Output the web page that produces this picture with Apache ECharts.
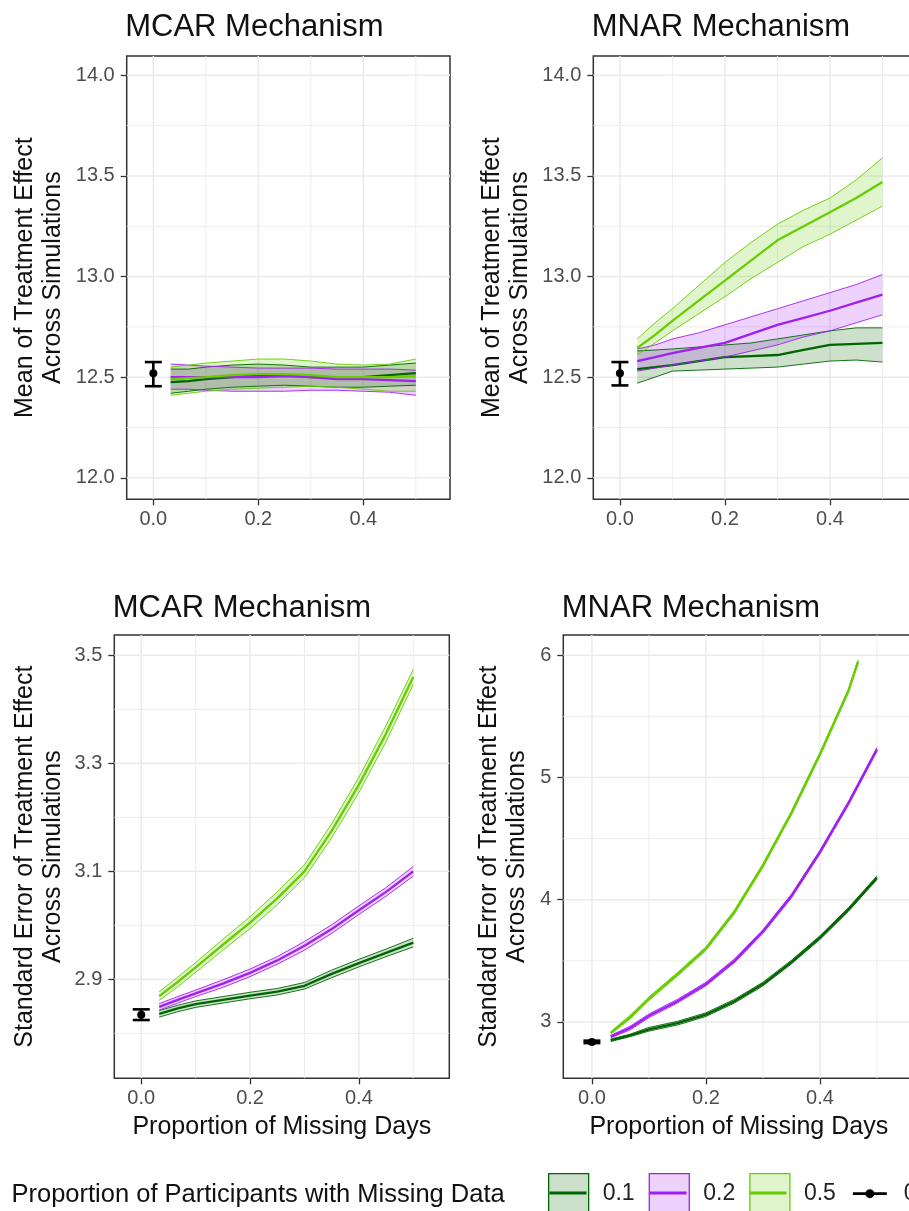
<!DOCTYPE html>
<html><head><meta charset="utf-8">
<script src="https://cdn.jsdelivr.net/npm/echarts@6/dist/echarts.min.js"></script>
<style>html,body{margin:0;padding:0;background:#fff}#c{width:909px;height:1211px}</style>
</head><body><div id="c"></div>
<script>
// ---------- DATA ----------
const groups = ['0.1', '0.2', '0.5'];
const refName = '0';
const xs = [0.033, 0.067, 0.1, 0.15, 0.2, 0.25, 0.3, 0.35, 0.4, 0.45, 0.5];
const xsShort = [0.033, 0.067, 0.1, 0.15, 0.2, 0.25, 0.3, 0.35, 0.4, 0.45, 0.467];

// Panel A: MCAR, mean of treatment effect
const mcarMean_01 = [12.475, 12.48, 12.49, 12.50, 12.51, 12.51, 12.50, 12.50, 12.50, 12.51, 12.52];
const mcarMean_01_hi = [12.54, 12.54, 12.55, 12.56, 12.565, 12.56, 12.55, 12.55, 12.55, 12.56, 12.57];
const mcarMean_01_lo = [12.42, 12.43, 12.44, 12.45, 12.455, 12.46, 12.455, 12.45, 12.45, 12.455, 12.46];
const mcarMean_02 = [12.50, 12.50, 12.50, 12.50, 12.50, 12.505, 12.50, 12.49, 12.49, 12.485, 12.48];
const mcarMean_02_hi = [12.565, 12.56, 12.555, 12.55, 12.545, 12.545, 12.545, 12.54, 12.54, 12.54, 12.535];
const mcarMean_02_lo = [12.44, 12.44, 12.435, 12.43, 12.43, 12.43, 12.435, 12.435, 12.43, 12.425, 12.41];
const mcarMean_05 = [12.49, 12.495, 12.50, 12.51, 12.515, 12.515, 12.51, 12.50, 12.50, 12.50, 12.505];
const mcarMean_05_hi = [12.55, 12.56, 12.57, 12.58, 12.59, 12.59, 12.58, 12.565, 12.56, 12.565, 12.59];
const mcarMean_05_lo = [12.41, 12.42, 12.43, 12.44, 12.445, 12.45, 12.455, 12.45, 12.44, 12.43, 12.43];

// Panel B: MNAR, mean of treatment effect
const mnarMean_01 = [12.54, 12.55, 12.56, 12.58, 12.60, 12.605, 12.61, 12.635, 12.66, 12.665, 12.67];
const mnarMean_01_hi = [12.63, 12.635, 12.64, 12.65, 12.66, 12.67, 12.69, 12.71, 12.73, 12.745, 12.745];
const mnarMean_01_lo = [12.47, 12.50, 12.53, 12.535, 12.54, 12.545, 12.55, 12.565, 12.58, 12.585, 12.575];
const mnarMean_02 = [12.58, 12.60, 12.62, 12.645, 12.67, 12.715, 12.76, 12.795, 12.83, 12.87, 12.91];
const mnarMean_02_hi = [12.64, 12.66, 12.69, 12.72, 12.76, 12.80, 12.84, 12.88, 12.92, 12.96, 13.01];
const mnarMean_02_lo = [12.53, 12.545, 12.56, 12.58, 12.60, 12.63, 12.66, 12.70, 12.73, 12.77, 12.81];
const mnarMean_05 = [12.645, 12.71, 12.78, 12.88, 12.98, 13.08, 13.18, 13.25, 13.32, 13.39, 13.47];
const mnarMean_05_hi = [12.69, 12.77, 12.84, 12.955, 13.07, 13.17, 13.26, 13.33, 13.39, 13.48, 13.59];
const mnarMean_05_lo = [12.61, 12.67, 12.73, 12.815, 12.90, 12.99, 13.07, 13.15, 13.21, 13.28, 13.35];

// Panel C: MCAR, standard error
const mcarSE_01 = [2.836, 2.846, 2.854, 2.862, 2.870, 2.877, 2.888, 2.910, 2.930, 2.949, 2.968];
const mcarSE_01_hi = [2.842, 2.852, 2.860, 2.868, 2.876, 2.883, 2.894, 2.917, 2.937, 2.956, 2.976];
const mcarSE_01_lo = [2.830, 2.840, 2.848, 2.856, 2.864, 2.871, 2.882, 2.903, 2.923, 2.942, 2.960];
const mcarSE_02 = [2.849, 2.862, 2.874, 2.892, 2.912, 2.935, 2.962, 2.993, 3.028, 3.062, 3.10];
const mcarSE_02_hi = [2.855, 2.868, 2.880, 2.899, 2.919, 2.942, 2.970, 3.001, 3.036, 3.070, 3.109];
const mcarSE_02_lo = [2.843, 2.856, 2.868, 2.885, 2.905, 2.928, 2.954, 2.985, 3.020, 3.054, 3.091];
const mcarSE_05 = [2.869, 2.895, 2.922, 2.964, 3.005, 3.05, 3.10, 3.175, 3.26, 3.355, 3.46];
const mcarSE_05_hi = [2.877, 2.904, 2.931, 2.974, 3.016, 3.062, 3.112, 3.188, 3.274, 3.370, 3.474];
const mcarSE_05_lo = [2.861, 2.886, 2.913, 2.954, 2.994, 3.038, 3.088, 3.162, 3.246, 3.340, 3.446];

// Panel D: MNAR, standard error
const mnarSE_01 = [2.85, 2.89, 2.94, 2.99, 3.06, 3.17, 3.31, 3.49, 3.69, 3.92, 4.18];
const mnarSE_01_hi = [2.86, 2.90, 2.955, 3.005, 3.075, 3.185, 3.325, 3.505, 3.705, 3.935, 4.195];
const mnarSE_01_lo = [2.84, 2.88, 2.925, 2.975, 3.045, 3.155, 3.295, 3.475, 3.675, 3.905, 4.165];
const mnarSE_02 = [2.88, 2.95, 3.05, 3.17, 3.31, 3.50, 3.74, 4.03, 4.39, 4.79, 5.23];
const mnarSE_02_hi = [2.89, 2.965, 3.065, 3.185, 3.325, 3.515, 3.755, 4.045, 4.405, 4.805, 5.245];
const mnarSE_02_lo = [2.87, 2.935, 3.035, 3.155, 3.295, 3.485, 3.725, 4.015, 4.375, 4.775, 5.215];
const mnarSE_05 = [2.91, 3.04, 3.19, 3.39, 3.60, 3.90, 4.28, 4.71, 5.19, 5.71, 5.95];
const mnarSE_05_hi = [2.92, 3.055, 3.205, 3.405, 3.615, 3.915, 4.295, 4.725, 5.205, 5.725, 5.965];
const mnarSE_05_lo = [2.90, 3.025, 3.175, 3.375, 3.585, 3.885, 4.265, 4.695, 5.175, 5.695, 5.935];

// Reference (no missing data) point with error bar, one per panel
const refX = [0, 0, 0, 0];
const refMean = [12.52, 12.52, 2.8345, 2.837];
const refLo = [12.455, 12.459, 2.8246, 2.827];
const refHi = [12.575, 12.575, 2.8444, 2.847];

// Tick labels / grid values
const xMajor = [0, 0.2, 0.4];
const xMinor = [0.1, 0.3, 0.5];
const yMajorMean = [12.0, 12.5, 13.0, 13.5, 14.0];
const yMinorMean = [12.25, 12.75, 13.25, 13.75];
const yMajorSE1 = [2.9, 3.1, 3.3, 3.5];
const yMinorSE1 = [2.8, 3.0, 3.2, 3.4];
const yMajorSE2 = [3, 4, 5, 6];
const yMinorSE2 = [3.5, 4.5, 5.5];

const panelTitles = ['MCAR Mechanism', 'MNAR Mechanism', 'MCAR Mechanism', 'MNAR Mechanism'];
const yTitles = ['Mean of Treatment Effect\nAcross Simulations', 'Mean of Treatment Effect\nAcross Simulations',
  'Standard Error of Treatment Effect\nAcross Simulations', 'Standard Error of Treatment Effect\nAcross Simulations'];
const xTitle = 'Proportion of Missing Days';
const legendTitle = 'Proportion of Participants with Missing Data';

// ---------- STYLE / LAYOUT ----------
const FONT = 'Liberation Sans, Arial, Helvetica, sans-serif';
const colors = ['#006400', '#A020F0', '#66CD00'];
const fills = ['rgba(0,100,0,0.2)', 'rgba(160,32,240,0.2)', 'rgba(102,205,0,0.2)'];

const grids = [
  { left: 126.7, top: 56, width: 323.3, height: 443.3 },
  { left: 593.3, top: 56, width: 323.3, height: 443.3 },
  { left: 114.3, top: 635, width: 335, height: 443.3 },
  { left: 563.3, top: 635, width: 351, height: 443.3 }
];
const xRanges = [[-0.0507, 0.5651], [-0.0507, 0.5651], [-0.0495, 0.5662], [-0.0502, 0.5655]];
const yRanges = [[11.893, 14.096], [11.893, 14.096], [2.7167, 3.5376], [2.539, 6.166]];
const yMajors = [yMajorMean, yMajorMean, yMajorSE1, yMajorSE2];
const yMinors = [yMinorMean, yMinorMean, yMinorSE1, yMinorSE2];
const yFmt = [v => v.toFixed(1), v => v.toFixed(1), v => v.toFixed(1), v => String(Math.round(v))];
const yNameGaps = [59.5, 59.5, 47.3, 32];

const panels = [
  { x: [xs, xs, xs], m: [mcarMean_01, mcarMean_02, mcarMean_05], lo: [mcarMean_01_lo, mcarMean_02_lo, mcarMean_05_lo], hi: [mcarMean_01_hi, mcarMean_02_hi, mcarMean_05_hi] },
  { x: [xs, xs, xs], m: [mnarMean_01, mnarMean_02, mnarMean_05], lo: [mnarMean_01_lo, mnarMean_02_lo, mnarMean_05_lo], hi: [mnarMean_01_hi, mnarMean_02_hi, mnarMean_05_hi] },
  { x: [xs, xs, xs], m: [mcarSE_01, mcarSE_02, mcarSE_05], lo: [mcarSE_01_lo, mcarSE_02_lo, mcarSE_05_lo], hi: [mcarSE_01_hi, mcarSE_02_hi, mcarSE_05_hi] },
  { x: [xs, xs, xsShort], m: [mnarSE_01, mnarSE_02, mnarSE_05], lo: [mnarSE_01_lo, mnarSE_02_lo, mnarSE_05_lo], hi: [mnarSE_01_hi, mnarSE_02_hi, mnarSE_05_hi] }
];

// ---------- BUILD ----------
const series = [];
const xAxes = [], yAxes = [];

grids.forEach((g, gi) => {
  xAxes.push({
    type: 'value', gridIndex: gi, min: xRanges[gi][0], max: xRanges[gi][1],
    axisLine: { show: false, onZero: false }, splitLine: { show: false },
    axisTick: { show: true, customValues: xMajor, length: 6, lineStyle: { color: '#333', width: 1.3 } },
    axisLabel: { customValues: xMajor, formatter: v => v.toFixed(1), color: '#4D4D4D', fontSize: 20, fontFamily: FONT, margin: 10 },
    name: gi >= 2 ? xTitle : '', nameLocation: 'middle', nameGap: 36,
    nameTextStyle: { fontSize: 25, color: '#111', fontFamily: FONT }
  });
  yAxes.push({
    type: 'value', gridIndex: gi, min: yRanges[gi][0], max: yRanges[gi][1],
    axisLine: { show: false, onZero: false }, splitLine: { show: false },
    axisTick: { show: true, customValues: yMajors[gi], length: 6, lineStyle: { color: '#333', width: 1.3 } },
    axisLabel: { customValues: yMajors[gi], formatter: yFmt[gi], color: '#4D4D4D', fontSize: 20, fontFamily: FONT, margin: 12 },
    name: yTitles[gi], nameLocation: 'middle', nameRotate: 90, nameGap: yNameGaps[gi],
    nameTextStyle: { fontSize: 25, lineHeight: 28, color: '#111', fontFamily: FONT, align: 'center' }
  });

  // gridlines (major + minor) drawn through the axis scales
  const gl = [];
  xMajor.forEach(v => gl.push([0, v, 1]));
  xMinor.forEach(v => gl.push([0, v, 0]));
  yMajors[gi].forEach(v => gl.push([1, v, 1]));
  yMinors[gi].forEach(v => gl.push([1, v, 0]));
  series.push({
    type: 'custom', xAxisIndex: gi, yAxisIndex: gi, silent: true, z: 0, data: gl,
    encode: { x: 1 },
    renderItem: (params, api) => {
      const cs = params.coordSys;
      const isX = api.value(0) === 0, v = api.value(1), major = api.value(2) === 1;
      const st = { stroke: '#EBEBEB', lineWidth: major ? 1.5 : 0.9 };
      if (isX) {
        const px = api.coord([v, yRanges[gi][0]])[0];
        return { type: 'line', shape: { x1: px, y1: cs.y, x2: px, y2: cs.y + cs.height }, style: st };
      }
      const py = api.coord([xRanges[gi][0], v])[1];
      return { type: 'line', shape: { x1: cs.x, y1: py, x2: cs.x + cs.width, y2: py }, style: st };
    }
  });

  const P = panels[gi];
  // ribbons
  for (let k = 0; k < 3; k++) {
    const xv = P.x[k], lo = P.lo[k], hi = P.hi[k];
    series.push({
      type: 'custom', name: groups[k], xAxisIndex: gi, yAxisIndex: gi, silent: true, z: 2,
      data: xv.map((x, i) => [x, lo[i], hi[i]]),
      encode: { x: 0, y: [1, 2] },
      renderItem: (params, api) => {
        if (params.dataIndex !== 0) return null;
        const pts = [];
        for (let i = 0; i < xv.length; i++) pts.push(api.coord([xv[i], hi[i]]));
        for (let i = xv.length - 1; i >= 0; i--) pts.push(api.coord([xv[i], lo[i]]));
        return { type: 'polygon', shape: { points: pts }, style: { fill: fills[k], stroke: null } };
      }
    });
  }
  // bound lines and mean lines
  for (let k = 0; k < 3; k++) {
    const xv = P.x[k];
    [[P.lo[k], 0.9], [P.hi[k], 0.9], [P.m[k], 2.3]].forEach(([arr, w]) => {
      series.push({
        type: 'line', name: groups[k], xAxisIndex: gi, yAxisIndex: gi, z: 3,
        showSymbol: false, symbol: 'none', silent: true,
        lineStyle: { color: colors[k], width: w }, itemStyle: { color: colors[k] },
        data: xv.map((x, i) => [x, arr[i]])
      });
    });
  }
  // reference point + error bar
  series.push({
    type: 'custom', name: refName, xAxisIndex: gi, yAxisIndex: gi, z: 4, silent: true,
    data: [[refX[gi], refMean[gi], refLo[gi], refHi[gi]]],
    encode: { x: 0, y: [1, 2, 3] },
    renderItem: (params, api) => {
      const x = api.value(0);
      const p = api.coord([x, api.value(1)]);
      const pl = api.coord([x, api.value(2)]);
      const ph = api.coord([x, api.value(3)]);
      const st = { stroke: '#000', lineWidth: 2.6 };
      return {
        type: 'group', children: [
          { type: 'line', shape: { x1: p[0], y1: ph[1], x2: p[0], y2: pl[1] }, style: st },
          { type: 'line', shape: { x1: p[0] - 8.5, y1: ph[1], x2: p[0] + 8.5, y2: ph[1] }, style: st },
          { type: 'line', shape: { x1: p[0] - 8.5, y1: pl[1], x2: p[0] + 8.5, y2: pl[1] }, style: st },
          { type: 'circle', shape: { cx: p[0], cy: p[1], r: 4 }, style: { fill: '#000' } }
        ]
      };
    }
  });
});

const titles = panelTitles.map((t, i) => ({
  text: t, left: grids[i].left - 1.5, top: i < 2 ? 11.5 : 592.5, padding: 0,
  textStyle: { fontSize: 31, fontWeight: 'normal', color: '#111', fontFamily: FONT }
}));
titles.push({
  text: legendTitle, left: 11.5, top: 1181.5, padding: 0,
  textStyle: { fontSize: 25.5, fontWeight: 'normal', color: '#111', fontFamily: FONT }
});

const PAD = 'M0,0L0,0M40,40L40,40';
const legendCommon = {
  orient: 'horizontal', left: 548, top: 1173, width: 700, itemWidth: 40, itemHeight: 40, itemGap: 14,
  selectedMode: false, padding: 0
};
const legendBoxes = Object.assign({}, legendCommon, {
  textStyle: { fontSize: 23, color: '#222', fontFamily: FONT, padding: [0, 0, 0, 9] },
  data: groups.map((g, k) => ({ name: g, icon: 'rect', itemStyle: { color: fills[k], borderColor: colors[k], borderWidth: 1.3 } }))
    .concat([{ name: refName, icon: 'path://' + PAD + 'M3,18.6H37V21.4H3ZM24.5,20A4.5,4.5,0,1,1,15.5,20A4.5,4.5,0,1,1,24.5,20Z', itemStyle: { color: '#000', borderWidth: 0 } }])
});
const legendLines = Object.assign({}, legendCommon, {
  textStyle: { fontSize: 23, color: 'rgba(0,0,0,0)', fontFamily: FONT, padding: [0, 0, 0, 9] },
  data: groups.map((g, k) => ({ name: g, icon: 'path://' + PAD + 'M1.5,18.4H38.5V21.6H1.5Z', itemStyle: { color: colors[k], borderWidth: 0 } }))
});

const option = {
  animation: false,
  backgroundColor: '#fff',
  textStyle: { fontFamily: FONT },
  title: titles,
  legend: [legendBoxes, legendLines],
  grid: grids.map(g => Object.assign({ show: true, borderColor: '#333', borderWidth: 1.5, backgroundColor: 'transparent', containLabel: false, outerBoundsMode: 'none' }, g)),
  xAxis: xAxes,
  yAxis: yAxes,
  series: series
};

const chart = echarts.init(document.getElementById('c'), null, { renderer: 'canvas' });
chart.setOption(option);
</script></body></html>
